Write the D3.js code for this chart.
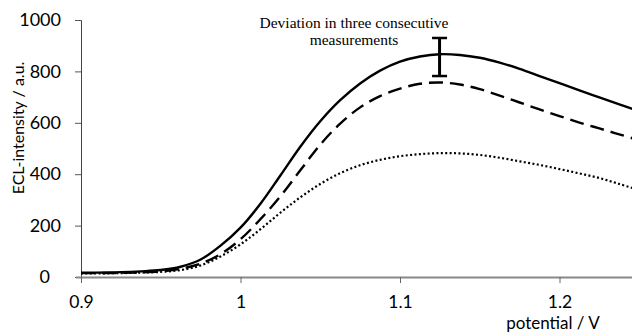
<!DOCTYPE html>
<html>
<head>
<meta charset="utf-8">
<script src="https://cdn.jsdelivr.net/npm/d3@7"></script>
<style>
  html, body { margin: 0; padding: 0; background: #fff; }
  svg { display: block; }
</style>
</head>
<body>
<script>
// Potential sweep (V) and ECL intensity (a.u.) for the three runs
const potential = [0.9, 0.925, 0.9375, 0.95, 0.9625, 0.975, 0.9875, 1.0, 1.0125, 1.025, 1.0375,
  1.05, 1.0625, 1.075, 1.0875, 1.1, 1.1125, 1.125, 1.1375, 1.15, 1.1625, 1.175, 1.1875,
  1.2, 1.2125, 1.225, 1.2375, 1.25];
const seriesSolid = [17, 19, 22, 27, 40, 68, 122, 192, 285, 395, 507,
  606, 688, 753, 803, 838, 858, 867, 864, 853, 834, 810, 782,
  754, 726, 699, 672, 645];
const seriesDashed = [15, 16, 18, 22, 32, 52, 89, 147, 225, 314, 415,
  515, 597, 660, 704, 733, 752, 757, 749, 731, 706, 679, 652,
  626, 601, 578, 555, 532];
const seriesDotted = [14, 15, 17, 20, 27, 45, 80, 127, 186, 250, 310,
  362, 404, 435, 456, 470, 478, 482, 481, 475, 464, 450, 436,
  420, 403, 385, 362, 338];

// Error bar: deviation in three consecutive measurements
const errorBar = { x: 1.1248, low: 782, high: 930 };

const xTicks = [0.9, 1, 1.1, 1.2];
const yTicks = [0, 200, 400, 600, 800, 1000];

const W = 632, H = 333;
const svg = d3.select("body").append("svg").attr("width", W).attr("height", H);

const x = d3.scaleLinear().domain([0.9, 1.25]).range([81, 639.25]);
const y = d3.scaleLinear().domain([0, 1000]).range([277, 20]);

const labelFont = "Lato, 'Open Sans', sans-serif";

// y axis
const yAxis = svg.append("g").attr("transform", `translate(${x(0.9)},0)`)
  .call(d3.axisLeft(y).tickValues(yTicks).tickSize(6).tickPadding(14).tickFormat(d3.format("d")));
yAxis.select(".domain").attr("stroke", "#444").attr("stroke-width", 1);
yAxis.selectAll(".tick line").attr("stroke", "#555");
yAxis.selectAll(".tick text").attr("font-family", labelFont).attr("font-size", 18).attr("fill", "#000");
// the zero label sits further left than the rest of the column
yAxis.selectAll(".tick").filter(d => d === 0).select("text").attr("x", -31);

// x axis
const xAxis = svg.append("g").attr("transform", `translate(0,${y(0)})`)
  .call(d3.axisBottom(x).tickValues(xTicks).tickSize(6).tickPadding(13)
    .tickFormat(d => d === 1 ? "1" : d3.format(".1f")(d)));
xAxis.select(".domain").attr("d", `M${x(0.9) - 5},0.5H${W}`).attr("stroke", "#888").attr("stroke-width", 2);
xAxis.selectAll(".tick line").attr("stroke", "#666");
xAxis.selectAll(".tick text").attr("font-family", labelFont).attr("font-size", 17.5).attr("fill", "#000");

// curves
const line = d3.line().x((d, i) => x(potential[i])).y(d => y(d)).curve(d3.curveCatmullRom.alpha(0.5));
const g = svg.append("g").attr("fill", "none").attr("stroke", "#000");
g.append("path").attr("d", line(seriesDotted)).attr("stroke-width", 2.2).attr("stroke-dasharray", "2,2.4");
g.append("path").attr("d", line(seriesDashed)).attr("stroke-width", 2.4).attr("stroke-dasharray", "14,7");
g.append("path").attr("d", line(seriesSolid)).attr("stroke-width", 2.4);

// error bar
const eb = svg.append("g").attr("stroke", "#000");
const ex = x(errorBar.x);
eb.append("line").attr("x1", ex).attr("x2", ex).attr("y1", y(errorBar.high)).attr("y2", y(errorBar.low)).attr("stroke-width", 3);
eb.append("line").attr("x1", ex - 7.5).attr("x2", ex + 7.5).attr("y1", y(errorBar.high)).attr("y2", y(errorBar.high)).attr("stroke-width", 2.5);
eb.append("line").attr("x1", ex - 7.5).attr("x2", ex + 7.5).attr("y1", y(errorBar.low)).attr("y2", y(errorBar.low)).attr("stroke-width", 2.5);

// annotation
const note = svg.append("text").attr("font-family", "'Liberation Serif', 'Times New Roman', serif")
  .attr("font-size", 15.5).attr("text-anchor", "middle").attr("fill", "#000");
note.append("tspan").attr("x", 354).attr("y", 28).text("Deviation in three consecutive");
note.append("tspan").attr("x", 354).attr("y", 45).text("measurements");

// axis titles
svg.append("text").attr("transform", "translate(24,128) rotate(-90)")
  .attr("text-anchor", "middle").attr("font-family", labelFont).attr("font-size", 16)
  .attr("fill", "#000").text("ECL-intensity / a.u.");
svg.append("text").attr("x", 553).attr("y", 328.5).attr("text-anchor", "middle")
  .attr("font-family", labelFont).attr("font-size", 17).attr("fill", "#000").text("potential / V");
</script>
</body>
</html>
